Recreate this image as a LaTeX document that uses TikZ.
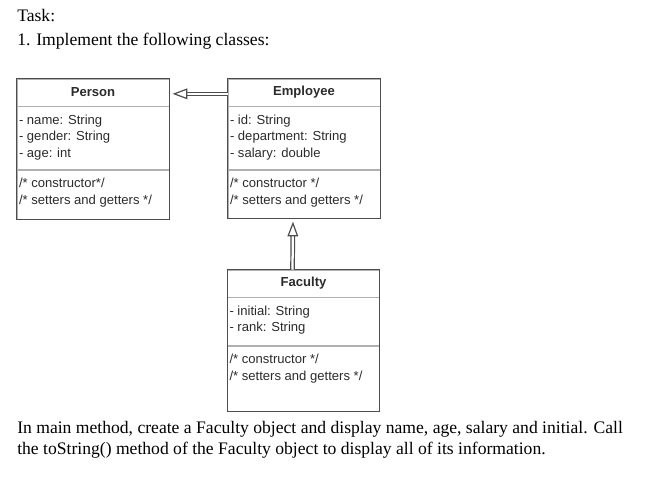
\documentclass[tikz,border=0pt]{standalone}
\usepackage{fontspec}
\setmainfont{Liberation Serif}
\setsansfont{Liberation Sans}
\usetikzlibrary{positioning,arrows.meta}

\definecolor{boxline}{HTML}{4D4D4D}
\definecolor{sepline}{HTML}{B0B0B0}
\definecolor{umltext}{HTML}{2B2B2B}

\newcommand{\umlfont}{\sffamily\fontsize{9.8}{12.5}\selectfont}
\newcommand{\taskfont}{\fontsize{13.2}{15.8}\selectfont}

\begin{document}
\begin{tikzpicture}[x=0.75pt, y=-0.75pt,
    classhead/.style={draw=sepline, minimum width=114pt, minimum height=20.25pt,
      inner sep=0pt, font=\umlfont\bfseries, text=umltext},
    classpart/.style={draw=sepline, minimum width=114pt, inner sep=0pt},
    members/.style={anchor=north west, align=left, inner xsep=1.5pt, inner ysep=6pt,
      font=\umlfont, text=umltext},
    frame/.style={draw=boxline, line width=0.8pt},
    inherit/.style={draw=boxline, double=white, double distance=1.7pt, line width=0.9pt,
      -{Triangle[open, length=11pt, width=8pt, line width=0.9pt]}, shorten >=2.5pt},
    tasktext/.style={anchor=base west, inner sep=0pt, font=\taskfont}]

    \useasboundingbox (0,0) rectangle (657,483);

    %% Task text
    \node[tasktext] (task) at (17,21.7) {Task:};
    \node[tasktext] (item) at (17,45) {1. Implement the following classes:};

    %% Class diagram

    % Person
    \node[classhead] (P) at (93,92.5) {Person};
    \node[classpart, minimum height=47.25pt, below=0pt of P] (Pa) {};
    \node[classpart, minimum height=36.75pt, below=0pt of Pa] (Po) {};
    \node[members] (Pam) at (Pa.north west) {- name: String\\- gender: String\\- age: int};
    \node[members] (Pom) at (Po.north west) {/* constructor*/\\/* setters and getters */};
    \draw[frame] (P.north west) rectangle (Po.south east);

    % Employee
    \node[classhead] (E) at (304,92.5) {Employee};
    \node[classpart, minimum height=47.25pt, below=0pt of E] (Ea) {};
    \node[classpart, minimum height=36pt, below=0pt of Ea] (Eo) {};
    \node[members] (Eam) at (Ea.north west) {- id: String\\- department: String\\- salary: double};
    \node[members] (Eom) at (Eo.north west) {/* constructor */\\/* setters and getters */};
    \draw[frame] (E.north west) rectangle (Eo.south east);

    % Faculty
    \node[classhead] (F) at (303.5,283.5) {Faculty};
    \node[classpart, minimum height=36pt, below=0pt of F] (Fa) {};
    \node[classpart, minimum height=48.75pt, below=0pt of Fa] (Fo) {};
    \node[members] (Fam) at (Fa.north west) {- initial: String\\- rank: String};
    \node[members] (Fom) at (Fo.north west) {/* constructor */\\/* setters and getters */};
    \draw[frame] (F.north west) rectangle (Fo.south east);

    % Inheritance
    \draw[inherit] ([yshift=-1pt]E.west) -- ([yshift=-1pt]P.east);
    \draw[inherit] ([xshift=-8.25pt]F.north) -- ([xshift=-8.25pt]Eo.south);

    %% Main method text
    \node[tasktext] (main1) at (17,433) {In main method, create a Faculty object and display name, age, salary and initial. Call};
    \node[tasktext] (main2) at (17,454.3) {the toString() method of the Faculty object to display all of its information.};

\end{tikzpicture}
\end{document}
